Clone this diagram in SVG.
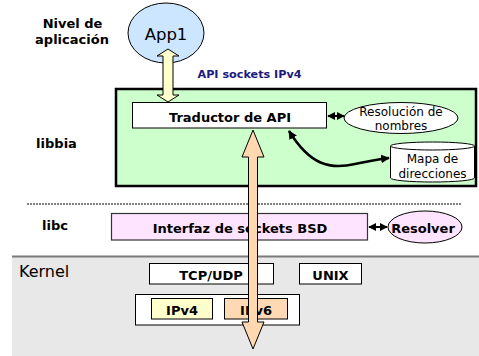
<svg xmlns="http://www.w3.org/2000/svg" width="479" height="356" viewBox="0 0 479 356">
<defs>
<style>
text{font-family:"DejaVu Sans","Verdana",sans-serif;fill:#000}
.b{font-weight:bold;font-size:13px}
.r{font-size:12px}
.c{text-anchor:middle}
.box{stroke:#000;stroke-width:1}
</style>
<marker id="ah" viewBox="0 0 10 10" refX="9" refY="5" markerWidth="4" markerHeight="4" orient="auto-start-reverse" markerUnits="strokeWidth">
<path d="M0,0 L10,5 L0,10 z" fill="#000"/>
</marker>
<marker id="ah2" viewBox="0 0 10 10" refX="9" refY="5" markerWidth="3.5" markerHeight="3.5" orient="auto-start-reverse" markerUnits="strokeWidth">
<path d="M0,0 L10,5 L0,10 z" fill="#000"/>
</marker>
</defs>
<rect width="479" height="356" fill="#fff"/>

<g id="labels">
<text class="b c" x="72.5" y="28" font-size="12.5">Nivel de</text>
<text class="b c" x="72" y="44" font-size="12.5">aplicación</text>
<text class="b c" x="56.5" y="148" font-size="12">libbia</text>
<text class="b c" x="55" y="230" font-size="12">libc</text>
<text x="249.5" y="78" font-size="11.2" font-weight="bold" class="c" style="fill:#1a1a80">API sockets IPv4</text>
</g>

<g id="kernel">
<rect x="12" y="256" width="467" height="100" fill="#e8e8e8"/>
<line x1="12" y1="256.5" x2="479" y2="256.5" stroke="#7a7a7a" stroke-width="2"/>
<text x="19" y="277" font-size="16">Kernel</text>
</g>

<g id="libbia">
<rect x="116" y="89" width="360" height="97" fill="#ccffcc" stroke="#000" stroke-width="2.5"/>
</g>

<g id="app1">
<ellipse cx="166" cy="33" rx="38" ry="30" fill="#cce6ff" stroke="#000" stroke-width="1"/>
<text class="c" x="166" y="40" font-size="16.5">App1</text>
</g>

<g id="traductor">
<rect class="box" x="132.5" y="102.5" width="194" height="25.5" fill="#fff"/>
<text class="b c" x="230" y="121.5" font-size="12.8">Traductor de API</text>
</g>

<g id="resolucion">
<ellipse cx="401" cy="118" rx="57" ry="15.5" fill="#fff" stroke="#000"/>
<text class="r c" x="401" y="115.5">Resolución de</text>
<text class="r c" x="401" y="129.5">nombres</text>
</g>

<g id="mapa">
<path d="M390.5,146 L390.5,178 A42,4 0 0 0 474.5,178 L474.5,146" fill="#fff" stroke="#000"/>
<ellipse cx="432.5" cy="146" rx="42" ry="4" fill="#fff" stroke="#000"/>
<text class="r c" x="432.5" y="163">Mapa de</text>
<text class="r c" x="432.5" y="177.5">direcciones</text>
</g>

<g id="dashed">
<line x1="27" y1="204" x2="462" y2="204" stroke="#000" stroke-width="1" stroke-dasharray="2 1"/>
</g>

<g id="bsd">
<rect x="111.5" y="213.5" width="256" height="26.5" fill="#ffe4ff" stroke="#333" stroke-width="1.2"/>
<text class="b c" x="240" y="232.5" font-size="12.8">Interfaz de sockets BSD</text>
</g>

<g id="resolver">
<ellipse cx="425" cy="227" rx="37" ry="16" fill="#ffe4ff" stroke="#000"/>
<text class="b c" x="423" y="232.5" font-size="12.3">Resolver</text>
</g>

<g id="tcpudp">
<rect class="box" x="149.5" y="263.5" width="124" height="20.5" fill="#fff"/>
<text class="b c" x="211" y="279.5" font-size="12.5">TCP/UDP</text>
</g>

<g id="unix">
<rect class="box" x="299.5" y="263.5" width="62" height="20.5" fill="#fff"/>
<text class="b c" x="330.5" y="279.5" font-size="12.5">UNIX</text>
</g>

<g id="ip">
<rect class="box" x="135.5" y="294.5" width="164" height="30.5" fill="#fff"/>
</g>
<g id="ipv4">
<rect class="box" x="151.5" y="298.5" width="61" height="20.5" fill="#ffffcc"/>
<text class="b c" x="182" y="314.5" font-size="12.3">IPv4</text>
</g>
<g id="ipv6">
<rect class="box" x="224.5" y="298.5" width="63" height="20.5" fill="#ffd9b3"/>
<text class="b c" x="256" y="314.5" font-size="12.3">IPv6</text>
</g>

<g id="connectors">
<polygon points="168,49 179,56 173,56 173,95 179,95 168,102 157,95 163,95 163,56 157,56" fill="#ffffcc" stroke="#000" stroke-width="1"/>
<line x1="328" y1="116" x2="344" y2="116" stroke="#000" stroke-width="2" marker-start="url(#ah)" marker-end="url(#ah)"/>
<path d="M289,131 C310,165 330,170 355,164 C370,161 380,159 389,158" fill="none" stroke="#000" stroke-width="2.5" marker-start="url(#ah2)" marker-end="url(#ah2)"/>
<line x1="369" y1="227" x2="387" y2="227" stroke="#000" stroke-width="2" marker-start="url(#ah)" marker-end="url(#ah)"/>
<polygon points="253,130 264,157 257.5,157 257.5,322 264,322 253,349 242,322 248.5,322 248.5,157 242,157" fill="#ffd8b0" stroke="#000" stroke-width="1"/>
</g>
</svg>
